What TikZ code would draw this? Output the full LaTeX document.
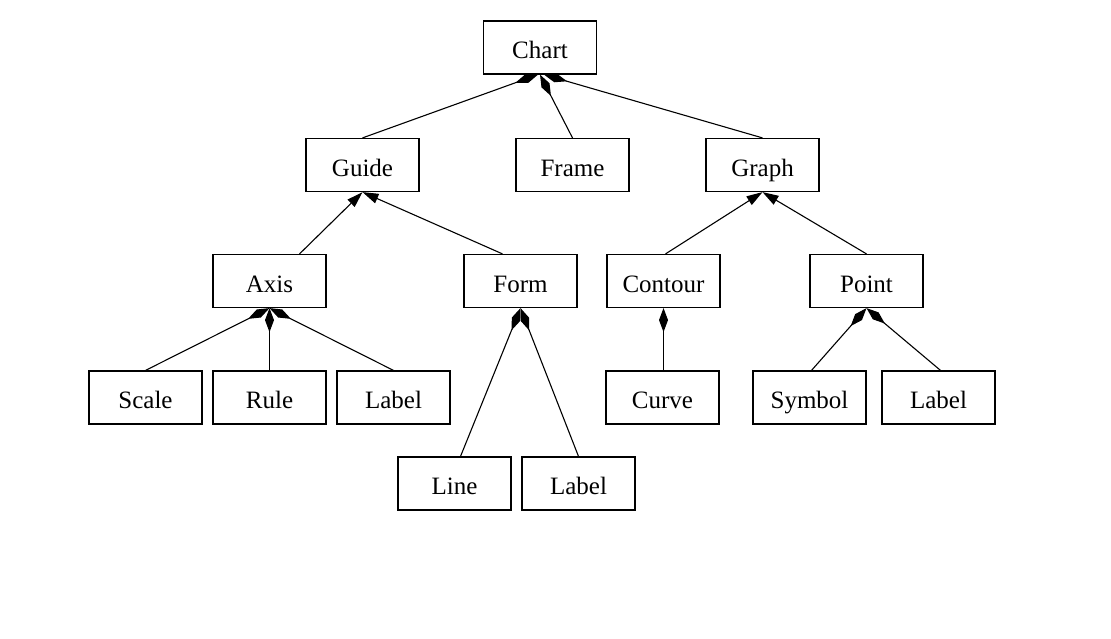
\documentclass[tikz,border=0pt]{standalone}
\usepackage{fontspec}
\setmainfont{Liberation Serif}
\usepackage{tikz}
\usetikzlibrary{arrows.meta}

\tikzset{
  box/.style={draw,line width=0.6pt,minimum width=56.5pt,minimum height=26.5pt,
    inner sep=0pt,text height=12pt,text depth=1pt,
    font=\fontsize{12.5}{15}\selectfont},
  comp/.style={{Diamond[length=12pt,width=4.5pt]}-,line width=0.55pt},
  gen/.style={{Triangle[length=8pt,width=5pt]}-,line width=0.55pt}
}

\begin{document}
\begin{tikzpicture}[x=0.5pt,y=-0.5pt]
            \useasboundingbox (0,0) rectangle (1111,638);
            % top level
            \node[box] (Chart) at (540,47.5) {Chart};
            \node[box] (Guide) at (362.5,165) {Guide};
            \node[box] (Frame) at (572.5,165) {Frame};
            \node[box] (Graph) at (762.5,165) {Graph};
            % second level
            \node[box] (Axis) at (269.5,281) {Axis};
            \node[box] (Form) at (520.5,281) {Form};
            \node[box] (Contour) at (663.5,281) {Contour};
            \node[box] (Point) at (866.5,281) {Point};
            % leaves
            \node[box] (Scale) at (145.5,397.5) {Scale};
            \node[box] (Rule) at (269.5,397.5) {Rule};
            \node[box] (AxisLabel) at (393.5,397.5) {Label};
            \node[box] (Curve) at (662.5,397.5) {Curve};
            \node[box] (Symbol) at (809.5,397.5) {Symbol};
            \node[box] (PointLabel) at (938.5,397.5) {Label};
            \node[box] (Line) at (454.5,483.5) {Line};
            \node[box] (FormLabel) at (578.5,483.5) {Label};

            \path ([xshift=-1pt]Chart.south) edge[comp] (Guide.north)
                  (Chart.south) edge[comp] (Frame.north)
                  ([xshift=2pt]Chart.south) edge[comp] (Graph.north)
                  (Guide.south) edge[gen] ([xshift=15pt]Axis.north)
                  (Guide.south) edge[gen] ([xshift=-9pt]Form.north)
                  (Graph.south) edge[gen] ([xshift=1pt]Contour.north)
                  (Graph.south) edge[gen] (Point.north)
                  (Axis.south) edge[comp] (Scale.north)
                               edge[comp] (Rule.north)
                               edge[comp] (AxisLabel.north)
                  (Form.south) edge[comp] ([xshift=3pt]Line.north)
                               edge[comp] (FormLabel.north)
                  (Contour.south) edge[comp] ([xshift=0.5pt]Curve.north)
                  (Point.south) edge[comp] ([xshift=1pt]Symbol.north)
                                edge[comp] ([xshift=1pt]PointLabel.north);
            \end{tikzpicture}
\end{document}
